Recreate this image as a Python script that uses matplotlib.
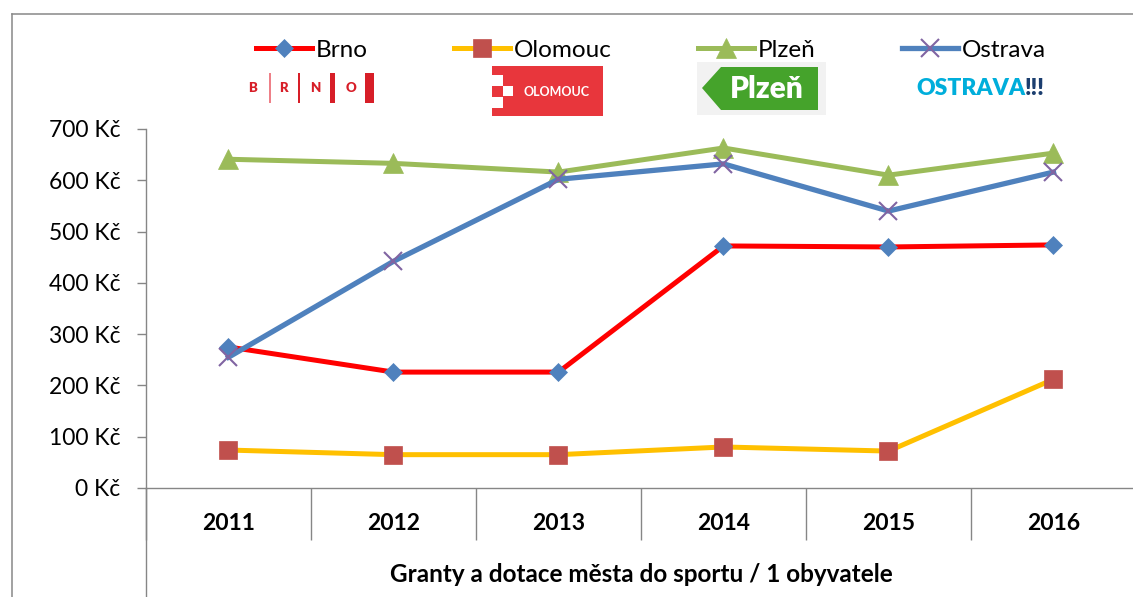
#!/usr/bin/python3
#
# Grants and subsidies for sport per inhabitant, four Czech cities, 2011-2016.

import matplotlib.pyplot as plt
import matplotlib.patches as patches
import numpy as np

from matplotlib.lines import Line2D

years = ["2011", "2012", "2013", "2014", "2015", "2016"]
brno = [275, 226, 226, 472, 470, 474]
olomouc = [74, 65, 65, 80, 72, 212]
plzen = [641, 633, 616, 663, 610, 653]
ostrava = [255, 442, 602, 632, 540, 616]
yticks = [0, 100, 200, 300, 400, 500, 600, 700]
xlabel = "Granty a dotace města do sportu / 1 obyvatele"

W, H = 1133, 597
GRAY = "#868686"

plt.rcParams["font.family"] = ["Lato", "DejaVu Sans"]


def fx(x):
    return x / W


def fy(y):
    return 1 - y / H


def rect(fig, x0, y0, x1, y1, color):
    # pixel coords, origin top-left
    fig.add_artist(
        patches.Rectangle(
            (fx(x0), fy(y1)), (x1 - x0) / W, (y1 - y0) / H,
            transform=fig.transFigure, facecolor=color, edgecolor="none",
        )
    )


def draw_logos(fig, ax):
    # Brno: letters separated by bars of growing width
    red = "#D71E28"
    for letter, xc in zip("BRNO", [253, 283, 315, 351]):
        fig.text(fx(xc), fy(88), letter, color=red, fontsize=9.5,
                 fontweight="heavy", ha="center", va="center")
    for (x0, x1), c in zip([(268.5, 270.5), (298, 300.5), (330, 335), (365, 374)],
                           ["#EE8088", red, red, red]):
        rect(fig, x0, 73, x1, 103, c)

    # Olomouc: red block with checker notches on the left
    rect(fig, 492, 66, 603, 116, "#E8363C")
    for x0, y0 in [(492, 75), (502.5, 86), (492, 97)]:
        rect(fig, x0, y0, x0 + 10.5, y0 + 10.5, "white")
    fig.text(fx(557), fy(92), "OLOMOUC", color="white", fontsize=9,
             fontweight="bold", ha="center", va="center")

    # Plzen: green arrow tag on a light grey tile
    rect(fig, 697, 62, 826, 115, "#F2F2F2")
    pts = [(702, 88), (721, 67), (818, 67), (818, 110), (721, 110)]
    fig.add_artist(
        patches.Polygon([(fx(a), fy(b)) for a, b in pts], closed=True,
                        transform=fig.transFigure, facecolor="#45A32B",
                        edgecolor="none")
    )
    fig.text(fx(767), fy(89), "Plzeň", color="white", fontsize=21.5,
             fontweight="heavy", ha="center", va="center")

    # Ostrava!!!
    t = fig.text(fx(916), fy(99), "OSTRAVA", color="#00AEDB", fontsize=16.5,
                 fontweight="heavy", ha="left", va="bottom")
    ax.annotate("!!!", xy=(1, 0), xycoords=t, color="#1B3E6F", fontsize=16.5,
                fontweight="heavy", ha="left", va="bottom", annotation_clip=False)


def main():
    fig = plt.figure(figsize=(W / 100, H / 100), dpi=100)
    ax = fig.add_axes([fx(146), fy(488), 990 / W, 359 / H])

    x = np.arange(len(years))
    ax.plot(x, brno, color="#FF0000", lw=3.6, marker="D", ms=9.2,
            mfc="#4F81BD", mec="#4F81BD", mew=0.5, label="Brno", clip_on=False)
    ax.plot(x, olomouc, color="#FFC000", lw=3.6, marker="s", ms=13.5,
            mfc="#C0504D", mec="#C0504D", mew=0.5, label="Olomouc", clip_on=False)
    ax.plot(x, plzen, color="#9BBB59", lw=3.6, marker="^", ms=14,
            mfc="#9BBB59", mec="#9BBB59", mew=0.5, label="Plzeň", clip_on=False)
    ax.plot(x, ostrava, color="#4F81BD", lw=3.8, marker="x", ms=13.5,
            mec="#8064A2", mew=1.5, label="Ostrava", clip_on=False)

    ax.set_xlim(-0.5, len(years) - 0.5)
    ax.set_ylim(0, 700)
    ax.set_yticks(yticks)
    ax.set_yticklabels([f"{v} Kč" for v in yticks])
    ax.tick_params(axis="y", length=6.5, width=1, color=GRAY, pad=12, labelsize=16.5)

    ax.set_xticks(x)
    ax.set_xticklabels(years, fontweight="bold")
    ax.set_xticks(np.arange(-0.5, len(years), 1), minor=True)
    ax.tick_params(axis="x", which="major", length=0, pad=18, labelsize=16.5)
    ax.tick_params(axis="x", which="minor", length=37.5, width=1, color=GRAY)

    for side in ["top", "right"]:
        ax.spines[side].set_visible(False)
    for side in ["left", "bottom"]:
        ax.spines[side].set_color(GRAY)
        ax.spines[side].set_linewidth(1)
    # left axis line runs on through the category table
    ax.add_line(Line2D([0, 0], [0, -0.32], transform=ax.transAxes,
                       clip_on=False, color=GRAY, lw=1))

    ax.set_xlabel(xlabel, fontweight="bold", fontsize=17.5)
    ax.xaxis.set_label_coords(0.5, -(575 - 488) / 359)
    ax.xaxis.label.set_va("center")

    fs = 17.5
    fpx = fs * 100 / 72
    fig.legend(loc="center left", bbox_to_anchor=(fx(256), fy(50)), ncol=4,
               frameon=False, fontsize=fs, handlelength=56 / fpx,
               handletextpad=4 / fpx, columnspacing=86 / fpx, borderpad=0,
               borderaxespad=0, numpoints=1)

    draw_logos(fig, ax)

    # chart area border (cropped on the right and bottom)
    fig.add_artist(Line2D([fx(12), fx(12)], [0, fy(14)], transform=fig.transFigure,
                          color="#888888", lw=1.1))
    fig.add_artist(Line2D([fx(12), 1], [fy(14), fy(14)], transform=fig.transFigure,
                          color="#888888", lw=1.1))

    fig.savefig("out.png", dpi=100)


if __name__ == "__main__":
    main()
